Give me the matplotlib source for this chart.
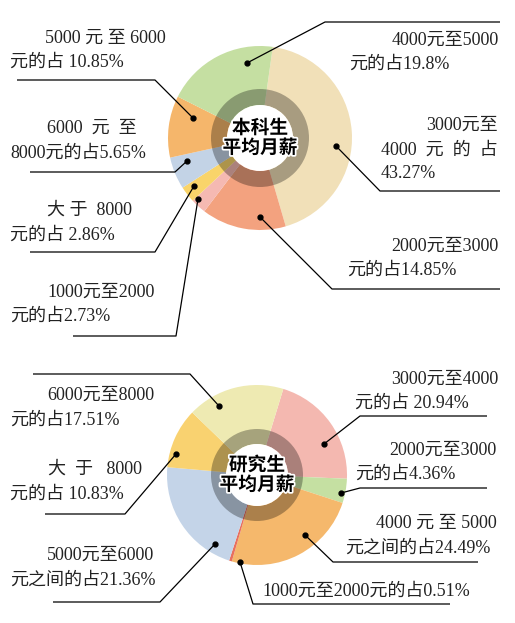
import matplotlib.pyplot as plt
import matplotlib.patches as mpatches
import matplotlib.patheffects as pe

plt.rcParams["font.family"] = ["Liberation Serif", "Noto Sans CJK SC", "DejaVu Sans"]

W, H = 515, 623

# 本科生 (undergraduate) shares, in clockwise order starting at the top
ug_labels = ["3000-4000", "2000-3000", "1000-2000", ">8000", "6000-8000", "5000-6000", "4000-5000"]
ug_shares = [43.27, 14.85, 2.73, 2.86, 5.65, 10.85, 19.8]
ug_colors = ["#f1e0b8", "#f3a27f", "#f5b9b2", "#f9d46a", "#c3d3e6", "#f5b66b", "#c5dfa2"]

# 研究生 (graduate) shares, clockwise from the top
pg_labels = ["3000-4000", "2000-3000", "4000-5000", "1000-2000", "5000-6000", ">8000", "6000-8000"]
pg_shares = [20.94, 4.36, 24.49, 0.51, 21.36, 10.83, 17.51]
pg_colors = ["#f4b8b0", "#c5e0a2", "#f5b86c", "#e8705e", "#c4d4e8", "#f9d270", "#eeeab2"]

# callout texts: (lines, x of each line, y of each line, alignment of each line)
ug_texts = [
    (["5000 元 至 6000", "元的占 10.85%"], [45, 10], [38, 62], "ll"),
    (["6000  元  至", "8000元的占5.65%"], [47, 10], [128, 153], "ll"),
    (["大 于  8000", "元的占 2.86%"], [47, 10], [210, 235], "ll"),
    (["1000元至2000", "元的占2.73%"], [47, 10], [292, 316], "ll"),
    (["4000元至5000", "元的占19.8%"], [499, 349], [40, 64], "rl"),
    (["3000元至", "4000  元  的  占", "43.27%"], [498, 498, 381], [125, 150, 174], "rrl"),
    (["2000元至3000", "元的占14.85%"], [498, 347], [246, 270], "rl"),
]
pg_texts = [
    (["6000元至8000", "元的占17.51%"], [47, 10], [395, 420], "ll"),
    (["大  于   8000", "元的占 10.83%"], [48, 10], [469, 494], "ll"),
    (["5000元至6000", "元之间的占21.36%"], [47, 10], [555, 580], "ll"),
    (["3000元至4000", "元的占 20.94%"], [498, 355], [379, 403], "rl"),
    (["2000元至3000", "元的占4.36%"], [497, 355], [450, 474], "rl"),
    (["4000 元 至 5000", "元之间的占24.49%"], [497, 345], [523, 548], "rl"),
    (["1000元至2000元的占0.51%"], [262], [591], "l"),
]

# leader lines: points from the dot on the slice to the end of the underline
ug_leaders = [
    [(193, 118), (155, 80), (17, 80)],
    [(187, 161), (175, 172), (30, 172)],
    [(194, 186), (155, 252), (30, 252)],
    [(198, 199), (176, 336), (73, 336)],
    [(247, 63), (325, 22), (500, 22)],
    [(336, 146), (380, 191), (500, 191)],
    [(260, 217), (332, 289), (500, 289)],
]
pg_leaders = [
    [(219, 406), (190, 374), (33, 374)],
    [(176, 454), (125, 514), (45, 514)],
    [(215, 544), (160, 602), (53, 602)],
    [(324, 444), (360, 416), (487, 416)],
    [(341, 493), (360, 488), (487, 488)],
    [(305, 535), (333, 562), (478, 562)],
    [(240, 562), (253, 604), (450, 604)],
]


def fy(y):
    return H - y


fig = plt.figure(figsize=(W / 100, H / 100), dpi=100)
ax = fig.add_axes([0, 0, 1, 1])
ax.set_xlim(0, W)
ax.set_ylim(0, H)
ax.set_aspect("equal")
ax.axis("off")


def donut(cx, cy, r, ring_r, hole_r, shares, colors, start, title):
    ax.pie(shares, colors=colors, startangle=start, counterclock=False,
           center=(cx, fy(cy)), radius=r, frame=True,
           wedgeprops=dict(linewidth=0))
    ax.add_patch(mpatches.Wedge((cx, fy(cy)), ring_r, 0, 360, width=ring_r - hole_r,
                                facecolor="black", alpha=0.3, linewidth=0))
    ax.add_patch(mpatches.Circle((cx, fy(cy)), hole_r, facecolor="white", linewidth=0))
    ax.text(cx, fy(cy), title, ha="center", va="center", fontsize=13.5,
            fontweight="bold", family=["Noto Sans CJK SC"], linespacing=1.05,
            path_effects=[pe.withStroke(linewidth=2.5, foreground="white")])


def callouts(texts, leaders):
    for lines, xs, ys, aligns in texts:
        for s, x, y, a in zip(lines, xs, ys, aligns):
            ax.text(x, fy(y), s, ha="right" if a == "r" else "left", va="center",
                    fontsize=13, color="#222222")
    for pts in leaders:
        xs = [p[0] for p in pts]
        ys = [fy(p[1]) for p in pts]
        ax.plot(xs, ys, color="black", lw=0.9, solid_capstyle="butt")
        ax.plot(xs[0], ys[0], "o", color="black", ms=3.5)


donut(260, 138, 92, 49, 33, ug_shares, ug_colors, 82, "本科生\n平均月薪")
donut(257, 475, 90, 46, 31, pg_shares, pg_colors, 73, "研究生\n平均月薪")
callouts(ug_texts, ug_leaders)
callouts(pg_texts, pg_leaders)

ax.set_xlim(0, W)
ax.set_ylim(0, H)

fig.savefig("out.png", dpi=100)
